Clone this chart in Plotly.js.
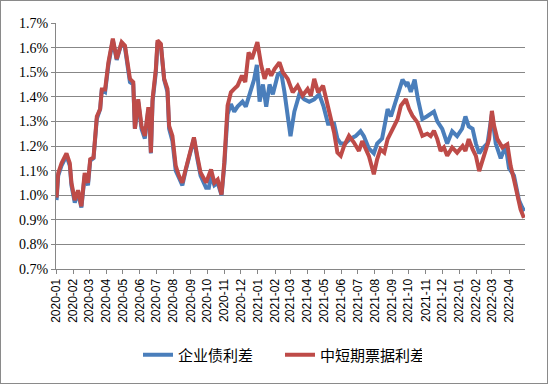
<!DOCTYPE html>
<html>
<head>
<meta charset="utf-8">
<script src="https://cdn.plot.ly/plotly-3.0.1.min.js"></script>
<style>
body{margin:0;padding:0;background:#fff;}
#wrap{position:relative;width:549px;height:385px;}
#chart{width:549px;height:385px;}
#frame{position:absolute;left:0;top:0;width:548px;height:384px;box-sizing:border-box;border:1px solid #8a8a8a;pointer-events:none;}
</style>
</head>
<body>
<div id="wrap"><div id="chart"></div><div id="frame"></div></div>
<script>
// 企业债利差 (%)
var corpDates = [
"2020-01-02","2020-01-05","2020-01-11","2020-01-20","2020-01-26","2020-01-29","2020-02-04","2020-02-10","2020-02-16","2020-02-22",
"2020-02-28","2020-03-03","2020-03-09","2020-03-15","2020-03-21","2020-03-24","2020-03-30","2020-04-05","2020-04-13","2020-04-20",
"2020-04-29","2020-05-05","2020-05-14","2020-05-20","2020-05-23","2020-05-29","2020-06-04","2020-06-10","2020-06-16","2020-06-18",
"2020-06-21","2020-06-24","2020-06-30","2020-07-03","2020-07-09","2020-07-15","2020-07-21","2020-07-24","2020-07-30","2020-08-05",
"2020-08-11","2020-08-17","2020-08-23","2020-08-29","2020-09-07","2020-09-13","2020-09-19","2020-09-29","2020-10-04","2020-10-08",
"2020-10-14","2020-10-20","2020-10-27","2020-11-01","2020-11-07","2020-11-13","2020-11-19","2020-11-25","2020-12-04","2020-12-10",
"2020-12-19","2020-12-25","2020-12-30","2021-01-04","2021-01-10","2021-01-16","2021-01-22","2021-01-28","2021-02-06","2021-02-12",
"2021-02-18","2021-02-24","2021-03-01","2021-03-08","2021-03-17","2021-03-26","2021-04-04","2021-04-13","2021-04-22","2021-04-30",
"2021-05-08","2021-05-19","2021-05-25","2021-05-31","2021-06-08","2021-06-18","2021-06-27","2021-07-06","2021-07-12","2021-07-21",
"2021-07-30","2021-08-05","2021-08-14","2021-08-20","2021-08-24","2021-08-30","2021-09-05","2021-09-11","2021-09-20","2021-09-26",
"2021-09-29","2021-10-05","2021-10-12","2021-10-18","2021-10-26","2021-11-03","2021-11-10","2021-11-16","2021-11-22","2021-12-01",
"2021-12-10","2021-12-19","2021-12-28","2022-01-06","2022-01-12","2022-01-18","2022-01-25","2022-01-31","2022-02-06","2022-02-12",
"2022-02-21","2022-03-01","2022-03-08","2022-03-17","2022-03-26","2022-04-01","2022-04-10","2022-04-19","2022-04-25","2022-04-29"];
var corpSpread = [
0.98,1.08,1.12,1.16,1.12,1.04,0.97,1.01,0.95,1.08,
1.04,1.14,1.15,1.31,1.35,1.43,1.42,1.53,1.63,1.55,
1.62,1.60,1.46,1.45,1.27,1.38,1.27,1.23,1.34,1.34,
1.17,1.38,1.50,1.62,1.61,1.47,1.42,1.27,1.22,1.10,
1.07,1.04,1.10,1.15,1.23,1.15,1.08,1.03,1.03,1.08,
1.04,1.05,1.00,1.12,1.33,1.37,1.34,1.36,1.38,1.36,
1.43,1.47,1.53,1.38,1.45,1.36,1.45,1.41,1.49,1.50,
1.42,1.32,1.24,1.34,1.41,1.39,1.38,1.39,1.41,1.36,
1.29,1.29,1.23,1.21,1.21,1.23,1.24,1.26,1.24,1.19,
1.17,1.21,1.23,1.30,1.35,1.32,1.36,1.41,1.47,1.45,
1.46,1.42,1.47,1.39,1.31,1.32,1.33,1.34,1.30,1.27,
1.21,1.26,1.24,1.27,1.32,1.28,1.27,1.21,1.17,1.19,
1.21,1.33,1.21,1.15,1.20,1.11,1.08,0.98,0.95,0.935];

// 中短期票据利差 (%)
var mtnDates = [
"2020-01-02","2020-01-05","2020-01-11","2020-01-20","2020-01-26","2020-01-29","2020-02-04","2020-02-10","2020-02-16","2020-02-22",
"2020-02-28","2020-03-03","2020-03-09","2020-03-15","2020-03-21","2020-03-24","2020-03-30","2020-04-05","2020-04-13","2020-04-20",
"2020-04-29","2020-05-05","2020-05-14","2020-05-20","2020-05-23","2020-05-29","2020-06-04","2020-06-10","2020-06-16","2020-06-18",
"2020-06-21","2020-06-24","2020-06-30","2020-07-03","2020-07-09","2020-07-15","2020-07-21","2020-07-24","2020-07-30","2020-08-05",
"2020-08-11","2020-08-17","2020-08-23","2020-08-29","2020-09-07","2020-09-13","2020-09-19","2020-09-29","2020-10-08","2020-10-14",
"2020-10-20","2020-10-27","2020-11-01","2020-11-07","2020-11-13","2020-11-19","2020-11-25","2020-12-03","2020-12-09","2020-12-15",
"2020-12-21","2020-12-31","2021-01-07","2021-01-13","2021-01-19","2021-01-25","2021-01-31","2021-02-09","2021-02-15","2021-02-24",
"2021-03-05","2021-03-14","2021-03-23","2021-04-01","2021-04-07","2021-04-13","2021-04-20","2021-04-29","2021-05-06","2021-05-12",
"2021-05-19","2021-05-25","2021-05-31","2021-06-06","2021-06-15","2021-06-24","2021-07-03","2021-07-09","2021-07-15","2021-07-21",
"2021-07-30","2021-08-05","2021-08-11","2021-08-18","2021-08-24","2021-09-02","2021-09-11","2021-09-17","2021-09-26","2021-10-02",
"2021-10-08","2021-10-17","2021-10-26","2021-11-04","2021-11-10","2021-11-16","2021-11-22","2021-11-28","2021-12-04","2021-12-10",
"2021-12-19","2021-12-28","2022-01-07","2022-01-12","2022-01-18","2022-01-25","2022-01-31","2022-02-06","2022-02-12","2022-02-18",
"2022-02-24","2022-03-01","2022-03-05","2022-03-11","2022-03-20","2022-03-29","2022-04-04","2022-04-10","2022-04-16","2022-04-22",
"2022-04-28"];
var mtnSpread = [
0.99,1.09,1.13,1.17,1.13,1.05,0.98,1.02,0.955,1.09,
1.05,1.146,1.153,1.32,1.35,1.43,1.43,1.54,1.636,1.554,
1.622,1.608,1.473,1.46,1.27,1.39,1.282,1.241,1.35,1.35,
1.173,1.39,1.513,1.629,1.615,1.473,1.432,1.282,1.241,1.119,
1.078,1.051,1.105,1.16,1.235,1.16,1.092,1.051,1.105,1.051,
1.064,1.003,1.133,1.364,1.418,1.432,1.445,1.486,1.46,1.58,
1.554,1.622,1.527,1.473,1.513,1.486,1.513,1.54,1.50,1.473,
1.418,1.445,1.405,1.432,1.405,1.473,1.418,1.445,1.377,1.309,
1.255,1.173,1.16,1.20,1.241,1.214,1.18,1.22,1.194,1.16,
1.085,1.146,1.187,1.173,1.228,1.27,1.309,1.364,1.39,1.35,
1.323,1.296,1.241,1.25,1.24,1.262,1.228,1.18,1.194,1.16,
1.194,1.173,1.20,1.18,1.228,1.187,1.16,1.098,1.146,1.187,
1.228,1.343,1.282,1.228,1.194,1.207,1.119,1.064,0.996,0.942,
0.908];

var seriesNames = ["企业债利差","中短期票据利差"];
var yTickVals = [0.7,0.8,0.9,1.0,1.1,1.2,1.3,1.4,1.5,1.6,1.7];
var yTickText = ["0.7%","0.8%","0.9%","1.0%","1.1%","1.2%","1.3%","1.4%","1.5%","1.6%","1.7%"];

var traces = [
  {x: corpDates, y: corpSpread, name: seriesNames[0], type: "scatter", mode: "lines",
   line: {color: "#4a7ebb", width: 4}},
  {x: mtnDates, y: mtnSpread, name: seriesNames[1], type: "scatter", mode: "lines",
   line: {color: "#be4b48", width: 4}}
];

var layout = {
  width: 549, height: 385,
  margin: {l: 56, r: 24, t: 23, b: 116},
  paper_bgcolor: "#ffffff", plot_bgcolor: "#ffffff",
  showlegend: true,
  legend: {orientation: "h", xref: "container", yref: "container", x: 138/549, y: 0.078,
           xanchor: "left", yanchor: "middle", entrywidth: 97, entrywidthmode: "pixels",
           font: {family: "Noto Sans CJK SC", size: 15, color: "#000"}},
  xaxis: {
    type: "date", range: ["2020-01-01", "2022-04-30"],
    tick0: "2020-01-01", dtick: "M1", tickformat: "%Y-%m", tickangle: -90,
    ticks: "outside", ticklen: 4, tickcolor: "#868686",
    showgrid: false, showline: true, linecolor: "#868686", linewidth: 1,
    tickfont: {family: "Liberation Sans", size: 12, color: "#000"}
  },
  yaxis: {
    range: [0.7, 1.7], tickmode: "array", tickvals: yTickVals, ticktext: yTickText,
    ticks: "outside", ticklen: 4, tickcolor: "#868686",
    showgrid: true, gridcolor: "#878787", gridwidth: 1, zeroline: false,
    showline: true, linecolor: "#868686", linewidth: 1,
    tickfont: {family: "Liberation Serif", size: 14, color: "#000"}
  }
};

Plotly.newPlot("chart", traces, layout, {displayModeBar: false, staticPlot: true});
</script>
</body>
</html>
